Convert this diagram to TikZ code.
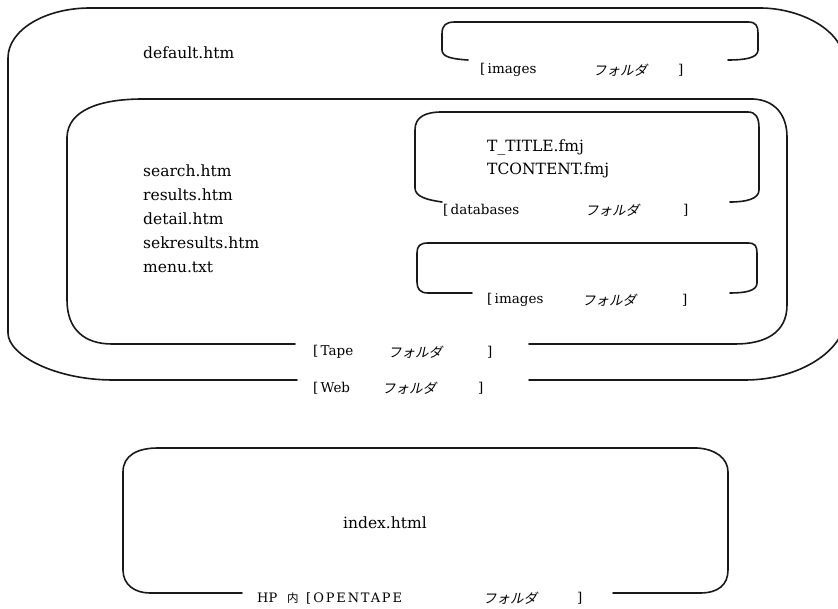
\documentclass[tikz,border=0pt]{standalone}
\usepackage{fontspec}
\setmainfont{DejaVu Serif}
\newfontfamily\jpslant[FakeSlant=0.22]{Noto Sans CJK JP}
\newfontfamily\jpfont{Noto Sans CJK JP}
\newfontfamily\spacedfont[LetterSpace=14]{DejaVu Serif}

\tikzset{
  frame/.style={line width=1.6pt, draw=black!90, line join=round, line cap=round},
  fname/.style={anchor=west, inner sep=0pt, font=\fontsize{15.5}{18}\selectfont},
  lbl/.style={anchor=west, inner sep=0pt, font=\fontsize{13.5}{16}\selectfont},
  kana/.style={anchor=west, inner sep=0pt, font=\jpslant\fontsize{13.5}{16}\selectfont},
}

\begin{document}
\begin{tikzpicture}[x=1pt,y=-1pt]
\useasboundingbox (0,0) rectangle (838,609);
\clip (0,0) rectangle (838,609);
\fill[white] (0,0) rectangle (838,609);

% Web folder (outer)
\draw[frame] (297,380) -- (113,380) .. controls (55,380) and (8,355) .. (8,333) -- (8,58)
  .. controls (8,30) and (45,8) .. (90,8) -- (760,8) .. controls (800,8) and (845,30) .. (845,65)
  -- (845,318) .. controls (845,350) and (800,380) .. (745,380) -- (529,380);

% Tape folder
\draw[frame] (295,344) -- (112,344) .. controls (85,344) and (67,330) .. (67,300) -- (67,137)
  .. controls (68,110) and (100,99) .. (143,99) -- (753,99) .. controls (775,100) and (787,115) .. (787,137)
  -- (787,305) .. controls (787,333) and (765,344) .. (735,344) -- (529,344);

% databases folder
\draw[frame] (442,202) .. controls (428,200) and (415,197) .. (415,188) -- (415,130)
  .. controls (415,117) and (425,112) .. (442,112) -- (748,112) .. controls (756,112) and (759,118) .. (759,128)
  -- (759,190) .. controls (759,199) and (746,202) .. (730,202);

% images folder (top)
\draw[frame] (468,60) .. controls (452,59) and (442,57) .. (442,50) -- (442,34)
  .. controls (442,25) and (446,22) .. (455,22) -- (748,22) .. controls (756,22) and (758,26) .. (758,33)
  -- (758,50) .. controls (758,58) and (745,60) .. (728,60);

% images folder (inner)
\draw[frame] (472,293) -- (428,293) .. controls (420,293) and (417,289) .. (417,282) -- (417,253)
  .. controls (417,246) and (420,243) .. (428,243) -- (748,243) .. controls (755,243) and (757,246) .. (757,253)
  -- (757,283) .. controls (757,291) and (745,293) .. (730,293);

% OPENTAPE folder
\draw[frame] (242,593) -- (150,593) .. controls (135,593) and (123,585) .. (123,570) -- (123,472)
  .. controls (123,455) and (138,448) .. (158,448) -- (697,448) .. controls (715,449) and (728,458) .. (728,472)
  -- (728,570) .. controls (728,585) and (718,593) .. (700,593) -- (613,593);

% file names
\node[fname] (def) at (143,53) {default.htm};
\node[fname] (srch) at (143,171) {search.htm};
\node[fname] (res) at (143,195) {results.htm};
\node[fname] (det) at (143,219) {detail.htm};
\node[fname] (sek) at (143,243) {sekresults.htm};
\node[fname] (menu) at (143,267) {menu.txt};
\node[fname] (ttl) at (487,147) {T\_TITLE.fmj};
\node[fname] (tcn) at (487,170) {TCONTENT.fmj};
\node[fname] (idx) at (343,523) {index.html};

% labels: images (top)
\node[lbl] (im1a) at (480,70) {[\,images};
\node[kana] (im1b) at (593,70) {フォルダ};
\node[lbl] (im1c) at (678,70) {]};
% databases
\node[lbl] (dba) at (443,210) {[\,databases};
\node[kana] (dbb) at (585,210) {フォルダ};
\node[lbl] (dbc) at (683,210) {]};
% images (inner)
\node[lbl] (im2a) at (487,300) {[\,images};
\node[kana] (im2b) at (582,300) {フォルダ};
\node[lbl] (im2c) at (682,300) {]};
% Tape
\node[lbl] (tpa) at (313,352) {[\,Tape};
\node[kana] (tpb) at (388,352) {フォルダ};
\node[lbl] (tpc) at (487,352) {]};
% Web
\node[lbl] (wba) at (313,388) {[\,Web};
\node[kana] (wbb) at (382,388) {フォルダ};
\node[lbl] (wbc) at (478,388) {]};
% OPENTAPE
\node[anchor=west, inner sep=0pt, font=\fontsize{13}{15}\selectfont] (hp) at (257,598) {HP};
\node[anchor=west, inner sep=0pt, font=\jpfont\fontsize{11.5}{14}\selectfont] (nai) at (287,598) {内};
\node[anchor=west, inner sep=0pt, font=\spacedfont\fontsize{13}{15}\selectfont] (opa) at (306,598) {[\,OPENTAPE};
\node[kana] (opb) at (483,598) {フォルダ};
\node[lbl] (opc) at (577,598) {]};
\end{tikzpicture}
\end{document}
